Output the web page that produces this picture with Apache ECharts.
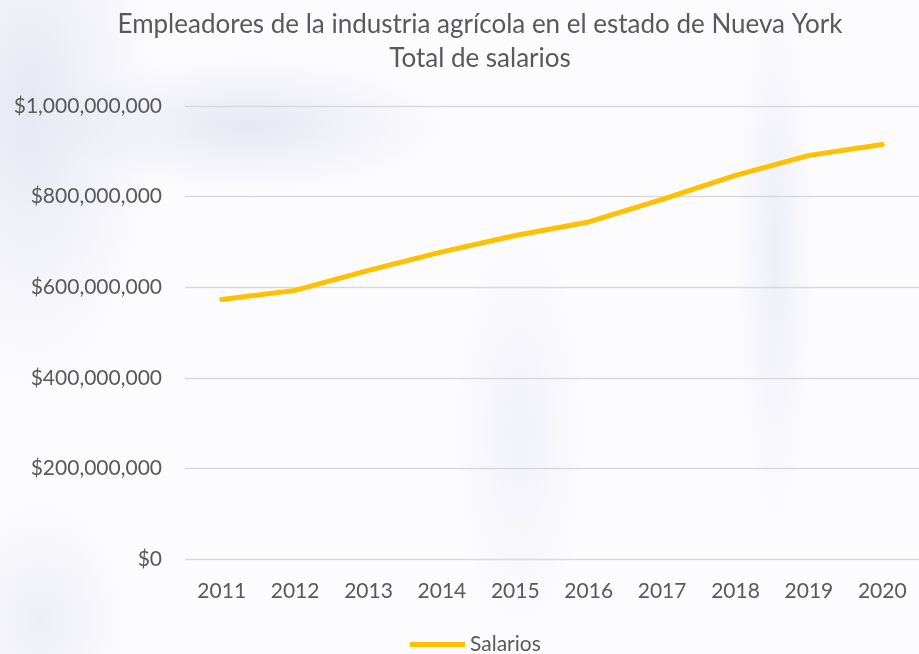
<!DOCTYPE html>
<html>
<head>
<meta charset="utf-8">
<script src="https://cdn.jsdelivr.net/npm/echarts@6/dist/echarts.min.js"></script>
<style>
  html, body { margin: 0; padding: 0; }
  #chart {
    width: 919px; height: 654px;
    background:
      radial-gradient(ellipse 200px 70px at 250px 125px, rgba(200,200,228,0.4), rgba(255,255,255,0) 100%),
      radial-gradient(ellipse 40px 280px at 775px 250px, rgba(210,210,235,0.35), rgba(255,255,255,0) 100%),
      radial-gradient(ellipse 130px 280px at 30px 110px, rgba(200,200,228,0.4), rgba(255,255,255,0) 100%),
      radial-gradient(ellipse 90px 120px at 40px 620px, rgba(210,210,232,0.35), rgba(255,255,255,0) 100%),
      radial-gradient(ellipse 70px 200px at 520px 430px, rgba(215,215,238,0.3), rgba(255,255,255,0) 100%),
      #fcfcfe;
  }
</style>
</head>
<body>
<div id="chart"></div>
<script>
  // datos
  const years = ['2011', '2012', '2013', '2014', '2015', '2016', '2017', '2018', '2019', '2020']
  const salarios = [573000000, 593000000, 637000000, 678000000, 714000000, 744000000, 794000000, 847000000, 891000000, 915000000]
  const yTicks = [0, 200000000, 400000000, 600000000, 800000000, 1000000000]

  const fontFamily = 'Lato, "Liberation Sans", sans-serif'
  const chart = echarts.init(document.getElementById('chart'))

  const money = v => '$' + v.toString().replace(/\B(?=(\d{3})+(?!\d))/g, ',')

  chart.setOption({
    backgroundColor: 'transparent',
    title: {
      text: 'Empleadores de la industria agrícola en el estado de Nueva York\nTotal de salarios',
      left: 475,
      textAlign: 'center',
      top: 3,
      textStyle: {
        color: '#595959',
        fontFamily: fontFamily,
        fontWeight: 'normal',
        fontSize: 26,
        lineHeight: 34
      }
    },
    legend: {
      bottom: -6,
      left: 405,
      itemWidth: 55,
      itemHeight: 5,
      icon: 'rect',
      textStyle: { color: '#595959', fontFamily: fontFamily, fontSize: 21 },
      data: ['Salarios']
    },
    grid: {
      left: 185,
      right: 0,
      top: 106,
      bottom: 95
    },
    xAxis: {
      type: 'category',
      data: years,
      boundaryGap: true,
      axisLine: { show: false },
      axisTick: { show: false },
      axisLabel: { color: '#595959', fontFamily: fontFamily, fontSize: 21, margin: 22 }
    },
    yAxis: {
      type: 'value',
      min: yTicks[0],
      max: yTicks[yTicks.length - 1],
      interval: 200000000,
      axisLine: { show: false },
      axisTick: { show: false },
      splitLine: { lineStyle: { color: '#d9d9d9', width: 1.3 } },
      axisLabel: {
        color: '#595959',
        fontFamily: fontFamily,
        fontSize: 21,
        margin: 23,
        formatter: money
      }
    },
    series: [
      {
        name: 'Salarios',
        type: 'line',
        data: salarios,
        symbol: 'none',
        lineStyle: { color: '#FFC000', width: 5, cap: 'round', join: 'round' },
        itemStyle: { color: '#FFC000' }
      }
    ]
  })
</script>
</body>
</html>
